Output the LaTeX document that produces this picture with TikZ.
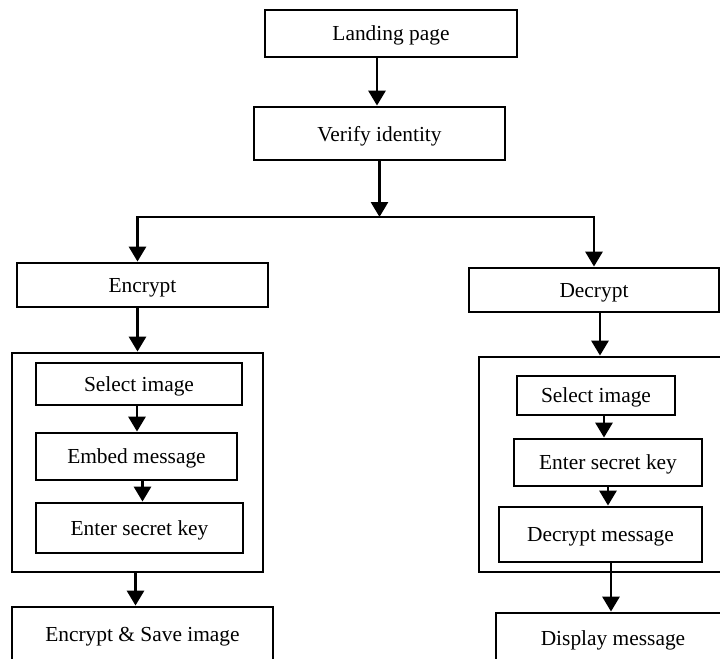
\documentclass[tikz,border=0pt]{standalone}
\usepackage{fontspec}
\setmainfont{Liberation Serif}
\usetikzlibrary{arrows.meta}

\begin{document}
\begin{tikzpicture}
[
x=0.5pt, y=-0.5pt,
every node/.style={font=\fontsize{10.7}{12}\selectfont, text depth=0pt},
StageBox/.style={rectangle, draw=black, line width=1.4pt, inner sep=0pt},
GroupBox/.style={rectangle, draw=black, line width=1.4pt, inner sep=0pt},
FlowArrow/.style={-{Triangle[length=7.5pt,width=8.5pt]}, line width=1.4pt, draw=black},
]

\useasboundingbox (0,0) rectangle (720,659);

% top of the flow
\node[StageBox, minimum width=126pt, minimum height=23.5pt] (land) at (391,33.5) {Landing page};
\node[StageBox, minimum width=125.5pt, minimum height=26.5pt] (verify) at (379.5,133.5) {Verify identity};
\coordinate (split) at (379.5,217);

\node[StageBox, minimum width=125.5pt, minimum height=22pt] (enc) at (142.5,285) {Encrypt};
\node[StageBox, minimum width=125pt, minimum height=22pt] (dec) at (594,290) {Decrypt};

% encrypt side
\node[GroupBox, minimum width=125.5pt, minimum height=109.5pt] (lgroup) at (137.5,462.5) {};
\node[StageBox, minimum width=103pt, minimum height=21pt] (lsel) at (139,384) {Select image};
\node[StageBox, minimum width=100.5pt, minimum height=23.5pt] (lemb) at (136.5,456.5) {Embed message};
\node[StageBox, minimum width=103.5pt, minimum height=25pt] (lkey) at (139.5,528) {Enter secret key};
\node[StageBox, minimum width=130.5pt, minimum height=27.5pt] (save) at (142.5,634.5) {Encrypt \& Save image};

% decrypt side
\node[GroupBox, minimum width=125.5pt, minimum height=107.5pt] (rgroup) at (604.5,464.5) {};
\node[StageBox, minimum width=79pt, minimum height=19.5pt] (rsel) at (596,395.5) {Select image};
\node[StageBox, minimum width=94pt, minimum height=23.5pt] (rkey) at (608,462.5) {Enter secret key};
\node[StageBox, minimum width=101.5pt, minimum height=27.5pt] (rdec) at (600.5,534.5) {Decrypt message};
\node[StageBox, minimum width=117pt, minimum height=25pt] (disp) at (613,638) {Display message};

% connectors
\draw[FlowArrow] ([xshift=-7pt]land.south) -- ([xshift=-7pt]land.south |- verify.north);
\draw[FlowArrow] (verify.south) -- (split);
\draw[FlowArrow] (split) -| ([xshift=-2.5pt]enc.north);
\draw[FlowArrow] (split) -| (dec.north);

\draw[FlowArrow] ([xshift=-2.5pt]enc.south) -- ([xshift=-2.5pt]enc.south |- lgroup.north);
\draw[FlowArrow] ([xshift=-1pt]lsel.south) -- ([xshift=-1pt]lsel.south |- lemb.north);
\draw[FlowArrow] ([xshift=3pt]lemb.south) -- ([xshift=3pt]lemb.south |- lkey.north);
\draw[FlowArrow] ([xshift=-1pt]lgroup.south) -- ([xshift=-1pt]lgroup.south |- save.north);

\draw[FlowArrow] ([xshift=3pt]dec.south) -- ([xshift=3pt]dec.south |- rgroup.north);
\draw[FlowArrow] ([xshift=4pt]rsel.south) -- ([xshift=4pt]rsel.south |- rkey.north);
\draw[FlowArrow] (rkey.south) -- (rkey.south |- rdec.north);
\draw[FlowArrow] ([xshift=5.25pt]rdec.south) -- ([xshift=5.25pt]rdec.south |- disp.north);

\end{tikzpicture}
\end{document}
